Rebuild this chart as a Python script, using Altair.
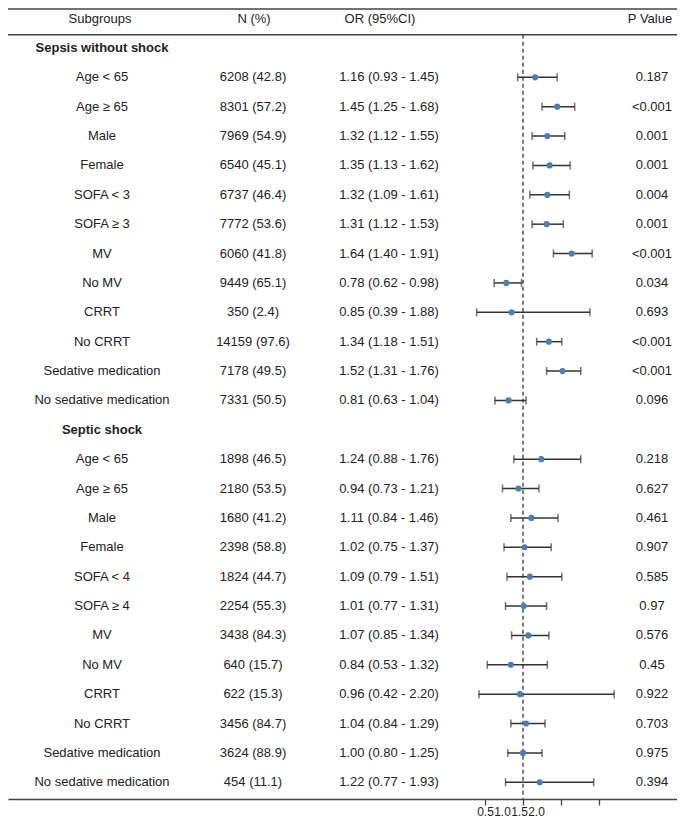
import altair as alt
import pandas as pd

# ---------------- data ----------------
headers = ["Subgroups", "N (%)", "OR (95%CI)", "P Value"]
groups = ["Sepsis without shock", "Septic shock"]

subgroups_1 = ["Age < 65", "Age ≥ 65", "Male", "Female", "SOFA < 3", "SOFA ≥ 3",
               "MV", "No MV", "CRRT", "No CRRT", "Sedative medication", "No sedative medication"]
n_pct_1 = ["6208 (42.8)", "8301 (57.2)", "7969 (54.9)", "6540 (45.1)", "6737 (46.4)", "7772 (53.6)",
           "6060 (41.8)", "9449 (65.1)", "350 (2.4)", "14159 (97.6)", "7178 (49.5)", "7331 (50.5)"]
or_est_1 = [1.16, 1.45, 1.32, 1.35, 1.32, 1.31, 1.64, 0.78, 0.85, 1.34, 1.52, 0.81]
or_lo_1 = [0.93, 1.25, 1.12, 1.13, 1.09, 1.12, 1.40, 0.62, 0.39, 1.18, 1.31, 0.63]
or_hi_1 = [1.45, 1.68, 1.55, 1.62, 1.61, 1.53, 1.91, 0.98, 1.88, 1.51, 1.76, 1.04]
p_1 = ["0.187", "<0.001", "0.001", "0.001", "0.004", "0.001",
       "<0.001", "0.034", "0.693", "<0.001", "<0.001", "0.096"]

subgroups_2 = ["Age < 65", "Age ≥ 65", "Male", "Female", "SOFA < 4", "SOFA ≥ 4",
               "MV", "No MV", "CRRT", "No CRRT", "Sedative medication", "No sedative medication"]
n_pct_2 = ["1898 (46.5)", "2180 (53.5)", "1680 (41.2)", "2398 (58.8)", "1824 (44.7)", "2254 (55.3)",
           "3438 (84.3)", "640 (15.7)", "622 (15.3)", "3456 (84.7)", "3624 (88.9)", "454 (11.1)"]
or_est_2 = [1.24, 0.94, 1.11, 1.02, 1.09, 1.01, 1.07, 0.84, 0.96, 1.04, 1.00, 1.22]
or_lo_2 = [0.88, 0.73, 0.84, 0.75, 0.79, 0.77, 0.85, 0.53, 0.42, 0.84, 0.80, 0.77]
or_hi_2 = [1.76, 1.21, 1.46, 1.37, 1.51, 1.31, 1.34, 1.32, 2.20, 1.29, 1.25, 1.93]
p_2 = ["0.218", "0.627", "0.461", "0.907", "0.585", "0.97",
       "0.576", "0.45", "0.922", "0.703", "0.975", "0.394"]

axis_ticks = [0.5, 1.0, 1.5, 2.0]

# ---------------- table ----------------
rows = []
r = 1
for g, subs, ns, est, lo, hi, ps in [
    (groups[0], subgroups_1, n_pct_1, or_est_1, or_lo_1, or_hi_1, p_1),
    (groups[1], subgroups_2, n_pct_2, or_est_2, or_lo_2, or_hi_2, p_2),
]:
    rows.append(dict(r=r, sub=g, bold=True, n="", ortxt="", p="", est=None, lo=None, hi=None))
    r += 1
    for s, n, e, l, h, p in zip(subs, ns, est, lo, hi, ps):
        rows.append(dict(r=r, sub=s, bold=False, n=n,
                         ortxt=f"{e:.2f} ({l:.2f} - {h:.2f})", p=p, est=e, lo=l, hi=h))
        r += 1
df = pd.DataFrame(rows)
df_est = df[df["est"].notna()].copy()
hdr = pd.DataFrame({"r": [0], "h0": [headers[0]], "h1": [headers[1]],
                    "h2": [headers[2]], "h3": [headers[3]]})
one = pd.DataFrame({"r": [0]})

# ---------------- layout ----------------
W, H = 669, 791
FONT = "Liberation Sans"
TXT = "#222222"
LINE = "#444444"

xscale = alt.Scale(domain=[-5.776, 3.026], nice=False, zero=False)
yscale = alt.Scale(domain=[-0.36, 26.57], reverse=True, nice=False, zero=False)
Y = alt.Y("r:Q", scale=yscale, axis=None)

label_offset = {
    "condition": [
        {"test": "datum.value == 1", "value": -21},
        {"test": "datum.value == 1.5", "value": -42},
        {"test": "datum.value == 2", "value": -63},
    ],
    "value": 0,
}

top_line = alt.Chart(one).mark_rule(color=LINE, strokeWidth=1.5).encode(
    x=alt.value(0), x2=alt.value(W), y=alt.value(1))
head_line = alt.Chart(one).mark_rule(color=LINE, strokeWidth=1.5).encode(
    x=alt.value(0), x2=alt.value(W), y=alt.datum(0.55, scale=yscale, axis=None))
dash_line = alt.Chart(one).mark_rule(color="#222222", strokeWidth=1.2, strokeDash=[4, 3]).encode(
    x=alt.datum(1.0, scale=xscale),
    y=alt.datum(0.55, scale=yscale, axis=None),
    y2=alt.value(H))

ci = alt.Chart(df_est).mark_rule(color="#333333", strokeWidth=1.5).encode(
    x=alt.X("lo:Q", scale=xscale,
            axis=alt.Axis(values=axis_ticks, format=".1f", title=None, grid=False,
                          domainColor=LINE, domainWidth=1.5, tickColor=LINE, tickWidth=1.3,
                          tickSize=6, labelPadding=1, labelFontSize=12, labelFont=FONT,
                          labelColor=TXT, labelOffset=label_offset, labelFlush=False,
                          labelOverlap=False)),
    x2="hi:Q",
    y=Y)
cap_lo = alt.Chart(df_est).mark_tick(color="#333333", orient="vertical", size=8, thickness=1.5).encode(
    x=alt.X("lo:Q", scale=xscale), y=Y)
cap_hi = alt.Chart(df_est).mark_tick(color="#333333", orient="vertical", size=8, thickness=1.5).encode(
    x=alt.X("hi:Q", scale=xscale), y=Y)
pts = alt.Chart(df_est).mark_circle(color="#4A7FB5", opacity=1, size=38).encode(
    x=alt.X("est:Q", scale=xscale), y=Y)

def col_text(data, field, xpos, bold=False, align="center"):
    return alt.Chart(data).mark_text(
        font=FONT, fontSize=13, color=TXT, align=align, baseline="middle",
        fontWeight="bold" if bold else "normal").encode(
        x=alt.value(xpos), y=Y, text=f"{field}:N")

t_sub = col_text(df[~df["bold"]], "sub", 94)
t_grp = col_text(df[df["bold"]], "sub", 94, bold=True)
t_n = col_text(df_est, "n", 245)
t_or = col_text(df_est, "ortxt", 381)
t_p = col_text(df_est, "p", 644)
h0 = col_text(hdr, "h0", 92)
h1 = col_text(hdr, "h1", 246)
h2 = col_text(hdr, "h2", 372)
h3 = col_text(hdr, "h3", 642)

chart = alt.layer(
    top_line, head_line, dash_line, ci, cap_lo, cap_hi, pts,
    t_sub, t_grp, t_n, t_or, t_p, h0, h1, h2, h3
).properties(
    width=W, height=H,
    autosize=alt.AutoSizeParams(type="none"),
    padding={"left": 0, "right": 0, "top": 0, "bottom": 18},
).configure_view(stroke=None)

chart.save("out.html", embed_options={"renderer": "svg", "actions": False})
